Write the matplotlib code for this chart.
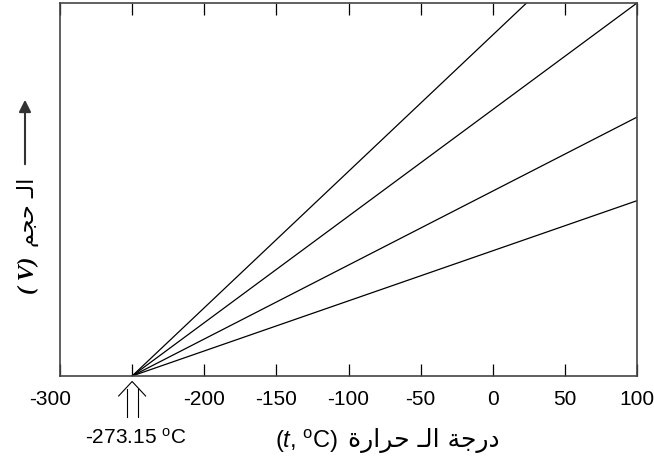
import matplotlib
matplotlib.use('Agg')
import matplotlib.pyplot as plt
from matplotlib.lines import Line2D
from matplotlib.patches import FancyArrowPatch
from matplotlib.transforms import IdentityTransform, ScaledTranslation

# ---- data ----
t_start = -250          # schematic axis position of absolute zero (labelled -273.15 oC)
t_end = 100
volumes_at_end = [12.8, 10.0, 6.94, 4.70]   # volume of each line at t = 100 (y range 0..10)
xticks = [-300, -250, -200, -150, -100, -50, 0, 50, 100]
xticklabels = ['-300', '', '-200', '-150', '-100', '-50', '0', '50', '100']
# Arabic, pre-shaped presentation forms in visual (left-to-right) order
xlabel_ar = "\uFE93\uFEAD\uFE8D\uFEAE\uFEA3 \u0640\uFEDF\uFE8D \uFE94\uFE9F\uFEAD\uFEA9"   # درجة الـ حرارة
xlabel_unit = "($\\mathit{t}$, $^{\\mathrm{o}}$C)"
ylabel_ar = "\uFEE2\uFEA0\uFEA3 \u0640\uFEDF\uFE8D"   # الـ حجم
ylabel_sym = "( V)"
zero_label = "-273.15 $^{\\mathrm{o}}$C"

plt.rcParams['mathtext.fontset'] = 'custom'
plt.rcParams['mathtext.rm'] = 'Liberation Sans'
plt.rcParams['mathtext.it'] = 'Liberation Sans:italic'
plt.rcParams['mathtext.bf'] = 'Liberation Sans:bold'
plt.rcParams['font.family'] = ['Liberation Sans', 'DejaVu Sans']

W, H = 654, 461
fig = plt.figure(figsize=(W / 100, H / 100), dpi=100)

def fx(x):
    return x / W

def fy(y):
    return 1 - y / H

ax = fig.add_axes([fx(60), fy(376), (637 - 60) / W, (376 - 3) / H])
for v in volumes_at_end:
    ax.plot([t_start, t_end], [0, v], color='black', lw=0.9)
ax.set_xlim(-300, 100)
ax.set_ylim(0, 10)
ax.set_xticks(xticks)
ax.set_xticklabels(xticklabels)
ax.tick_params(axis='x', direction='in', length=8.6, width=0.9, top=True,
               labelsize=15, pad=10)
ax.set_yticks([])
for s in ax.spines.values():
    s.set_color('#444444')
    s.set_linewidth(1.2)
# first label sits slightly left of the axis edge in the reference
lab0 = ax.get_xticklabels()[0]
lab0.set_transform(lab0.get_transform() + ScaledTranslation(-0.1, 0, fig.dpi_scale_trans))

# double arrow under absolute zero
px, py = ax.transData.transform((t_start, 0))
for dx in (-5.5, 5.5):
    fig.add_artist(Line2D([px + dx, px + dx], [py - 13, py - 41], color='black', lw=0.8,
                          transform=IdentityTransform()))
fig.add_artist(Line2D([px - 13.5, px, px + 13.5], [py - 20, py - 5.5, py - 20], color='black',
                      lw=0.8, transform=IdentityTransform()))
fig.text(fx(136), fy(438), zero_label, ha='center', va='center', fontsize=15)

# x label
fig.text(fx(338), fy(441), xlabel_unit, ha='right', va='center', fontsize=17)
fig.text(fx(500), fy(440), xlabel_ar, ha='right', va='center', fontsize=18,
         family=['DejaVu Sans'])

# y label
fig.text(fx(28), fy(275), ylabel_sym, ha='center', va='center', rotation=90,
         fontsize=17, family='Liberation Serif', weight='bold', style='italic')
fig.text(fx(28), fy(212), ylabel_ar, ha='center', va='center', rotation=90,
         fontsize=16, family=['DejaVu Sans'])
fig.add_artist(FancyArrowPatch(
    (fx(25), fy(167)), (fx(25), fy(97)), transform=fig.transFigure,
    arrowstyle='-|>', mutation_scale=18, color='#333333', lw=1.5))

fig.savefig('out.png', dpi=100)
